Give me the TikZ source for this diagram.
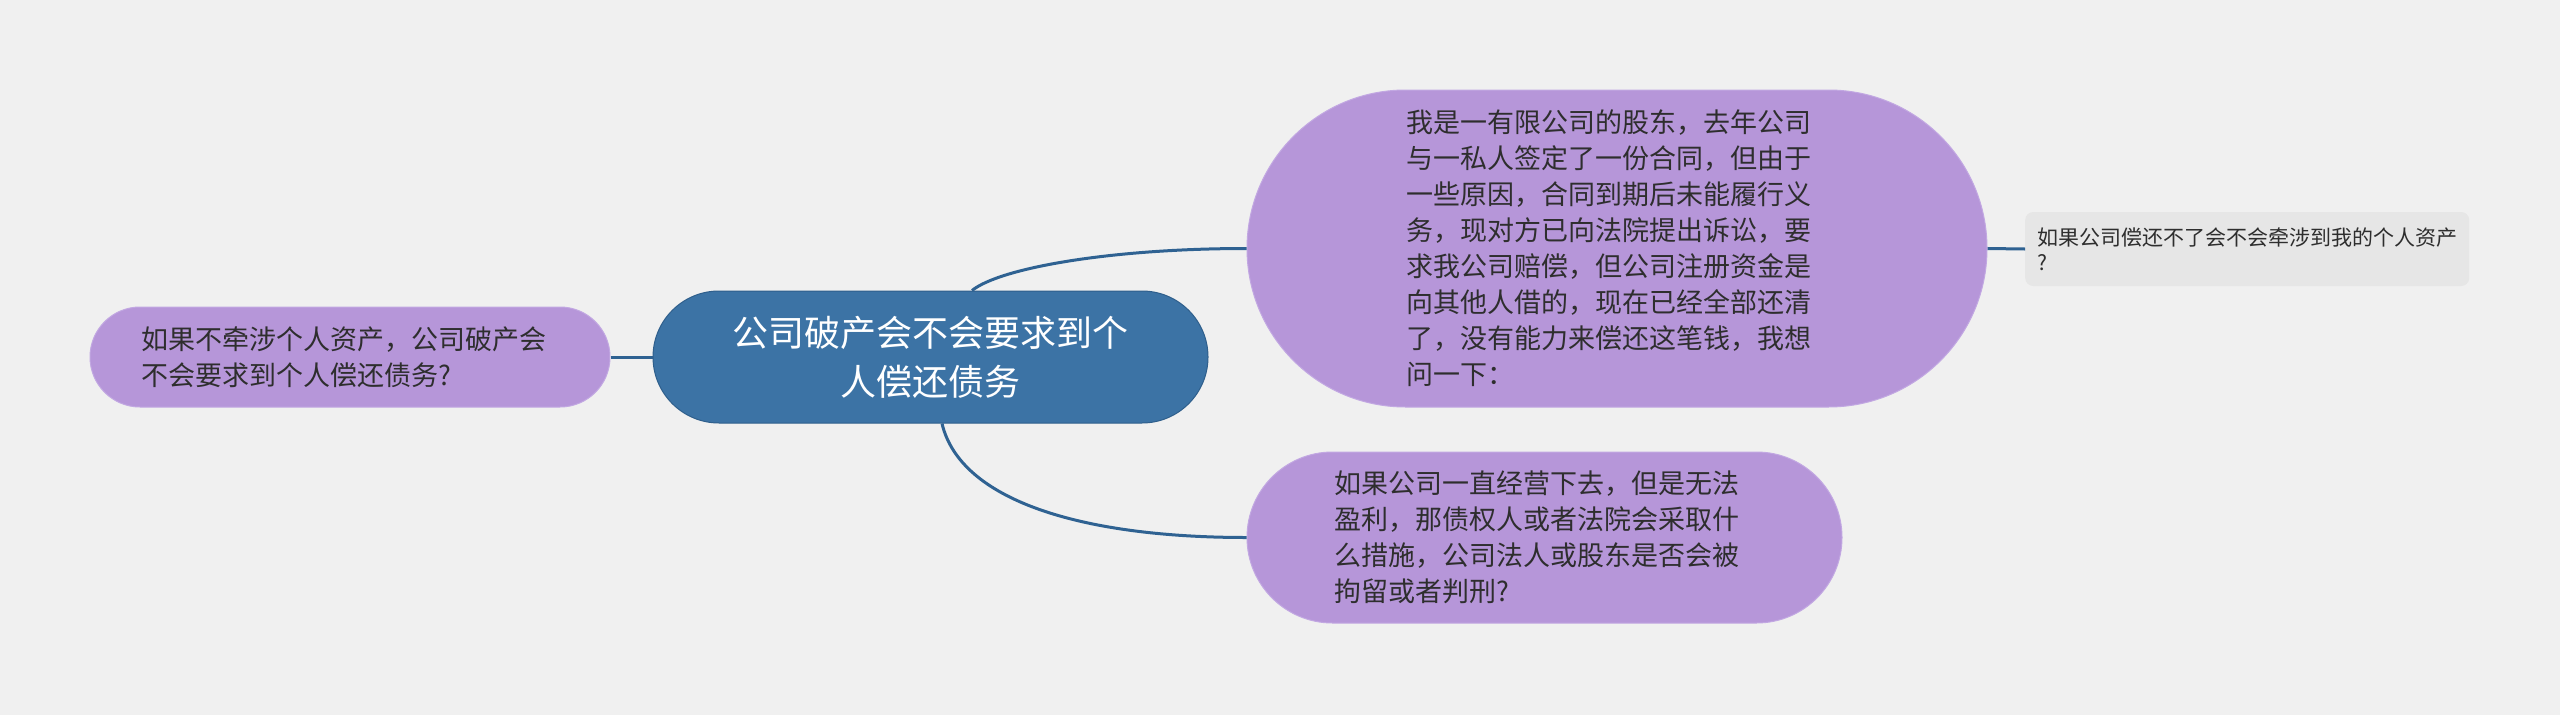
\documentclass[tikz,border=0pt]{standalone}
\usepackage{fontspec}
\setmainfont{Noto Sans CJK SC}
\usetikzlibrary{shapes.misc,calc}
\definecolor{bg}{HTML}{F0F0F0}
\definecolor{cfill}{HTML}{3C73A5}
\definecolor{cborder}{HTML}{2F5F8C}
\definecolor{linkc}{HTML}{2F6292}
\definecolor{pfill}{HTML}{B696D9}
\definecolor{pborder}{HTML}{C2A8E2}
\definecolor{gfill}{HTML}{E6E6E6}
\definecolor{txt}{HTML}{2E2E2E}
\newcommand{\padr}[1]{\rule{#1}{0pt}}
\tikzset{
  centralnode/.style={shape=rounded rectangle, fill=cfill, draw=cborder, line width=1pt,
    inner sep=0pt, text=white, align=center, font=\fontsize{36}{49}\selectfont},
  topicnode/.style={shape=rounded rectangle, fill=pfill, draw=pborder, line width=1pt,
    inner sep=0pt, text=txt, align=left, font=\fontsize{27}{36}\selectfont},
  leafnode/.style={shape=rectangle, rounded corners=8pt, fill=gfill, inner xsep=12pt,
    inner ysep=0pt, text=txt, align=left, font=\fontsize{21}{25}\selectfont},
  link/.style={draw=linkc, line width=3pt}
}
\begin{document}
\begin{tikzpicture}[x=1pt,y=-1pt]
\useasboundingbox (0,0) rectangle (2560,715);
\fill[bg] (0,0) rectangle (2560,715);

\node[centralnode, minimum width=555pt, minimum height=132pt] (c) at (930.5,357)
  {公司破产会不会要求到个\\人偿还债务};
\node[topicnode, minimum width=520pt, minimum height=100pt] (l) at (350,357)
  {如果不牵涉个人资产，公司破产会\padr{13pt}\\不会要求到个人偿还债务?};
\node[topicnode, minimum width=740pt, minimum height=317pt] (b) at (1617,248.5)
  {我是一有限公司的股东，去年公司\padr{16pt}\\与一私人签定了一份合同，但由于\\一些原因，合同到期后未能履行义\\务，现对方已向法院提出诉讼，要\\求我公司赔偿，但公司注册资金是\\向其他人借的，现在已经全部还清\\了，没有能力来偿还这笔钱，我想\\问一下：};
\node[topicnode, minimum width=595pt, minimum height=171pt] (d) at (1544.5,537.5)
  {如果公司一直经营下去，但是无法\padr{16pt}\\盈利，那债权人或者法院会采取什\\么措施，公司法人或股东是否会被\\拘留或者判刑?};
\node[leafnode, anchor=west, minimum width=443pt, minimum height=74pt] (g) at (2025,249)
  {如果公司偿还不了会不会牵涉到我的个人资产\\?};

\draw[link] (l.east) -- (c.west);
\draw[link] ([xshift=41.5pt]c.north) .. controls (1000,268) and (1110,248.5) .. (b.west);
\draw[link] ([xshift=11.5pt]c.south) .. controls (960,500) and (1080,537.5) .. (d.west);
\draw[link] (b.east) -- (g.west);
\end{tikzpicture}
\end{document}
